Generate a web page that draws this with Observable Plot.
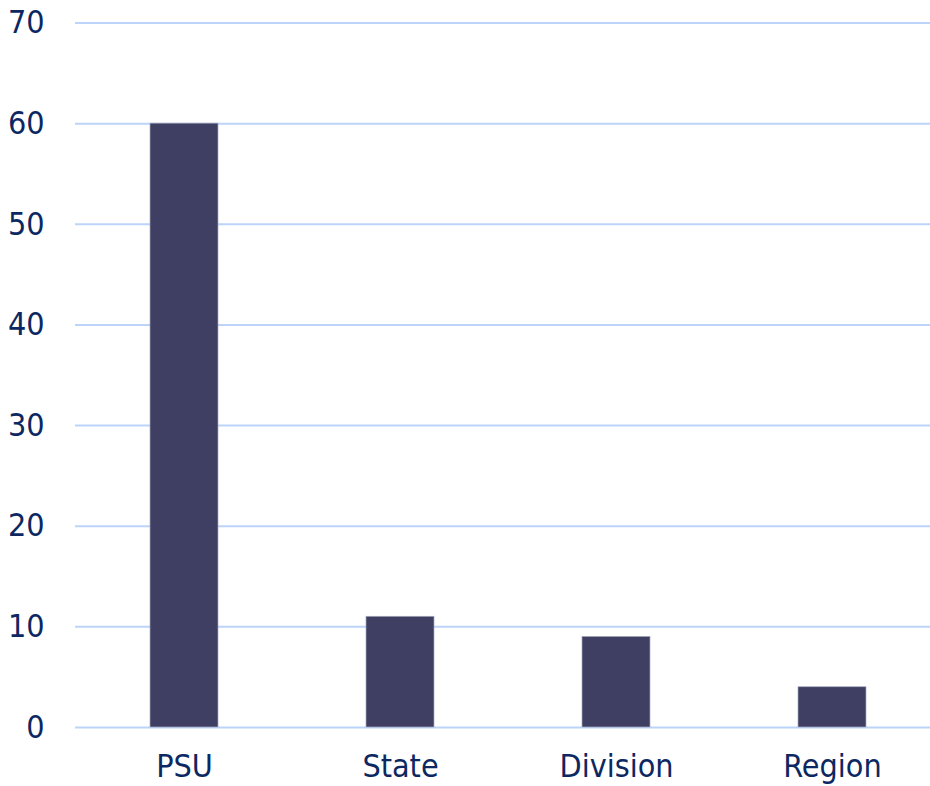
<!DOCTYPE html>
<html>
<head>
<meta charset="utf-8">
<script src="https://cdn.jsdelivr.net/npm/d3@7"></script>
<script src="https://cdn.jsdelivr.net/npm/@observablehq/plot@0.6"></script>
<style>
  html, body { margin: 0; padding: 0; background: #ffffff; }
  #chart svg { display: block; }
</style>
</head>
<body>
<div id="chart"></div>
<script>
const categories = ["PSU", "State", "Division", "Region"];
const values = [60, 11, 9, 4];
const yTicks = [0, 10, 20, 30, 40, 50, 60, 70];

const data = categories.map((c, i) => ({category: c, value: values[i]}));

const chart = Plot.plot({
  width: 930,
  height: 786,
  marginLeft: 75,
  marginRight: 0,
  marginTop: 22.5,
  marginBottom: 59,
  style: {
    fontFamily: "'DejaVu Sans Condensed', 'DejaVu Sans', sans-serif",
    fontStretch: "condensed",
    fontSize: "32px",
    color: "#0c2862",
    background: "#ffffff"
  },
  x: {
    domain: categories,
    range: [75.5, 939.5],
    paddingInner: 0.6875,
    paddingOuter: 0.34375,
    label: null
  },
  y: {
    domain: [0, 70],
    label: null
  },
  marks: [
    Plot.ruleY(yTicks, {stroke: "#bcd3fa", strokeWidth: 2}),
    Plot.barY(data, {x: "category", y: "value", fill: "#3e3f63", stroke: "#a6a8bc", strokeWidth: 0.7}),
    Plot.axisY({ticks: yTicks, tickSize: 0, tickPadding: 31, label: null, fill: "#0c2862"}),
    Plot.axisX({tickSize: 0, tickPadding: 27, label: null, fill: "#0c2862"})
  ]
});

document.getElementById("chart").appendChild(chart);
</script>
</body>
</html>
